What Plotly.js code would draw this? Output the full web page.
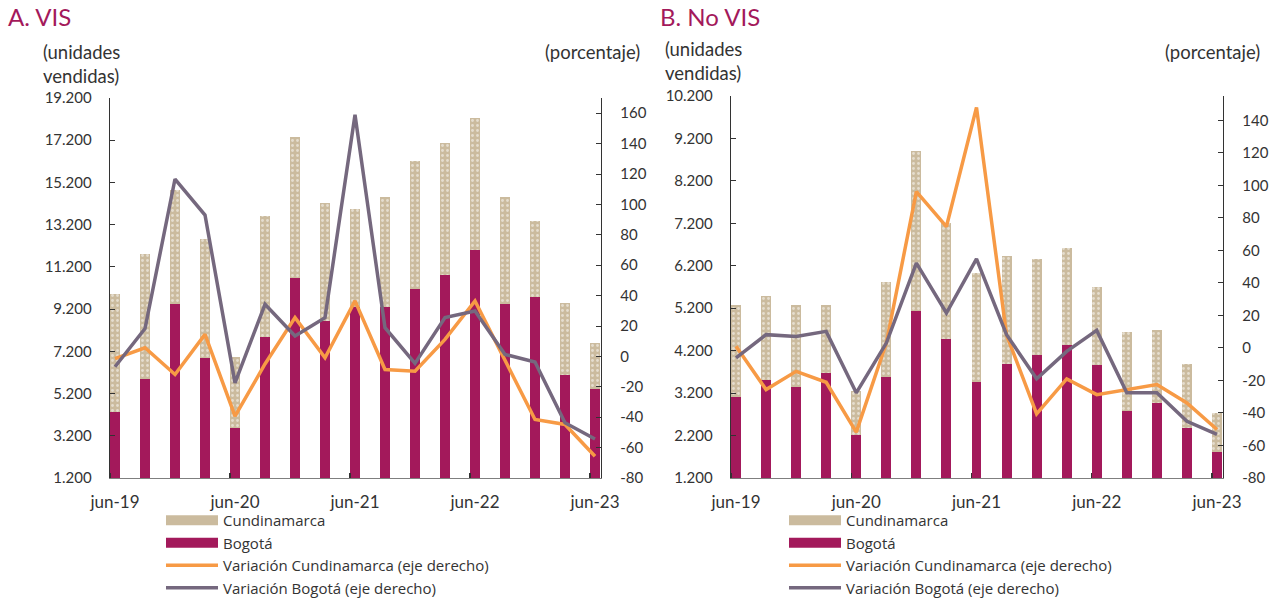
<!DOCTYPE html>
<html>
<head>
<meta charset="utf-8">
<script src="https://cdn.plot.ly/plotly-3.0.1.min.js"></script>
<style>
html,body{margin:0;padding:0;background:#fff;}
#chart{width:1278px;height:598px;}
</style>
</head>
<body>
<div id="chart"></div>
<script>
// Quarters
const quarters = ['jun-19','sep-19','dic-19','mar-20','jun-20','sep-20','dic-20','mar-21','jun-21','sep-21','dic-21','mar-22','jun-22','sep-22','dic-22','mar-23','jun-23'];
const yearTickLabels = ['jun-19','jun-20','jun-21','jun-22','jun-23'];

// Panel A: VIS (unidades vendidas)
const visBogota = [4340, 5880, 9440, 6900, 3550, 7860, 10660, 8650, 9300, 9320, 10170, 10830, 12000, 9440, 9790, 6100, 5430];
const visCundinamarca = [5580, 5930, 5400, 5620, 3400, 5770, 6710, 5560, 4630, 5210, 6060, 6260, 6240, 5090, 3580, 3370, 2180];
// variación anual (%)
const visVarCund = [-1.5, 5.7, -11.9, 14.5, -39.3, -5, 25.5, -0.9, 36.5, -8.6, -9.7, 11.2, 36.5, -3.1, -41.5, -44.8, -65.7];
const visVarBog = [-6.8, 18.3, 116.7, 93, -17.4, 34.3, 13.4, 25.5, 159, 18.9, -4.6, 25.5, 29.9, 1.3, -3.7, -43.7, -54.3];

// Panel B: No VIS
const noVisBogota = [3110, 3500, 3340, 3670, 2220, 3590, 5130, 4470, 3470, 3890, 4100, 4340, 3870, 2770, 2970, 2380, 1810];
const noVisCundinamarca = [2160, 1990, 1930, 1600, 1020, 2230, 3770, 2730, 2560, 2540, 2260, 2270, 1830, 1870, 1710, 1500, 920];
const noVisVarCund = [1.0, -25.6, -14.4, -21.1, -51.8, 3, 96.2, 74.7, 148, 8, -40.5, -19.0, -28.7, -25.6, -22.5, -33.8, -50.2];
const noVisVarBog = [-6.1, 8.2, 7.1, 10.2, -27.6, 3.0, 52.2, 21.5, 54.8, 8.2, -19.0, -2.1, 10.8, -27.6, -27.6, -45.1, -53.2];

const leftTicksA = [1200, 3200, 5200, 7200, 9200, 11200, 13200, 15200, 17200, 19200];
const leftTicksB = [1200, 2200, 3200, 4200, 5200, 6200, 7200, 8200, 9200, 10200];
const rightTicksA = [-80, -60, -40, -20, 0, 20, 40, 60, 80, 100, 120, 140, 160];
const rightTicksB = [-80, -60, -40, -20, 0, 20, 40, 60, 80, 100, 120, 140];

const C_MAG = '#A3195B', C_TAN = '#CBBB9E', C_ORA = '#F79A45', C_GRY = '#75687E';
const FONT = 'Lato, "Open Sans", sans-serif';
const TXT = '#333333';
const W = 1278, H = 598;

const xs = quarters.map((_, i) => i);
const yearIdx = yearTickLabels.map((_, k) => 4 * k);
const fmtThousands = v => String(v).replace(/\B(?=(\d{3})+(?!\d))/g, '.');

function panel(xa, yl, yr, leg, bog, cund, vC, vB) {
  return [
    {type:'bar', x: xs, y: bog, xaxis: xa, yaxis: yl, name:'Bogotá', showlegend:false,
     marker:{color: C_MAG, line:{width:0}}, width: 0.33, hovertext: quarters, textposition:'none'},
    {type:'bar', x: xs, y: cund, xaxis: xa, yaxis: yl, name:'Cundinamarca', showlegend:false,
     marker:{color: C_TAN, line:{width:0}, pattern:{shape:'.', fillmode:'overlay', fgcolor:'#ffffff', size:5, solidity:0.25}},
     width: 0.33, hovertext: quarters, textposition:'none'},
    // legend entries for the bars (wide swatches like the original)
    {type:'scatter', mode:'lines', x:[null], y:[null], xaxis: xa, yaxis: yl, name:'Cundinamarca', legend: leg, legendrank: 1,
     line:{color: C_TAN, width: 11}},
    {type:'scatter', mode:'lines', x:[null], y:[null], xaxis: xa, yaxis: yl, name:'Bogotá', legend: leg, legendrank: 2,
     line:{color: C_MAG, width: 11}},
    {type:'scatter', mode:'lines', x: xs, y: vC, xaxis: xa, yaxis: yr, name:'Variación Cundinamarca (eje derecho)', legend: leg, legendrank: 3,
     line:{color: C_ORA, width: 3.5}},
    {type:'scatter', mode:'lines', x: xs, y: vB, xaxis: xa, yaxis: yr, name:'Variación Bogotá (eje derecho)', legend: leg, legendrank: 4,
     line:{color: C_GRY, width: 3.5}}
  ];
}

const data = [
  ...panel('x', 'y', 'y2', 'legend', visBogota, visCundinamarca, visVarCund, visVarBog),
  ...panel('x2', 'y3', 'y4', 'legend2', noVisBogota, noVisCundinamarca, noVisVarCund, noVisVarBog)
];

const numFont = {family: FONT, size: 15, color: TXT};
const xFont = {family: FONT, size: 17, color: TXT};
function xAxis(dom) {
  return {domain: dom, range: [-0.167, 16.2], showgrid:false, zeroline:false,
    showline:true, linecolor:'#7f7f7f', linewidth:1.3,
    tickmode:'array', tickvals: yearIdx, ticktext: yearTickLabels, ticks:'', tickfont: xFont,
    ticklabelstandoff: 8,
    minor:{tickmode:'array', tickvals: yearIdx.map(v => v - 0.167), ticks:'inside', ticklen:5, tickcolor:'#333', tickwidth:1.3},
    fixedrange:true};
}
function yLeft(dom, anchor, range, ticks) {
  return {domain: dom, anchor: anchor, range: range, showgrid:false, zeroline:false,
    showline:true, linecolor:'#333', linewidth:1.3, ticks:'inside', ticklen:5, tickcolor:'#333',
    tickmode:'array', tickvals: ticks, ticktext: ticks.map(fmtThousands), tickfont: numFont,
    ticklabelstandoff: 14, fixedrange:true};
}
function yRight(over, anchor, range, ticks) {
  return {overlaying: over, anchor: anchor, side:'right', range: range, showgrid:false, zeroline:false,
    showline:true, linecolor:'#333', linewidth:1.3, ticks:'inside', ticklen:5, tickcolor:'#333',
    tickmode:'array', tickvals: ticks, ticktext: ticks.map(v => String(v)), tickfont: numFont,
    ticklabelstandoff: 15, fixedrange:true};
}

const domA = [110 / W, 601 / W], domB = [731 / W, 1223 / W];
const yDomA = [1 - 478 / H, 1 - 98 / H], yDomB = [1 - 478 / H, 1 - 96 / H];

function ann(text, px, py, opts) {
  return Object.assign({text: text, xref:'paper', yref:'paper', x: px / W, y: 1 - py / H,
    xanchor:'left', yanchor:'top', showarrow:false, align:'left',
    font:{family: FONT, size: 18.5, color: TXT}}, opts || {});
}

const legendBase = {orientation:'v', traceorder:'normal', bgcolor:'rgba(0,0,0,0)',
  font:{family: '"Open Sans", Lato, sans-serif', size: 15, color: TXT}, xanchor:'left', yanchor:'top', tracegroupgap:0, itemwidth:52};

const layout = {
  width: W, height: H, margin:{l:0, r:0, t:0, b:0, autoexpand:false},
  paper_bgcolor:'#fff', plot_bgcolor:'rgba(0,0,0,0)',
  barmode:'stack', showlegend:true,
  xaxis: xAxis(domA), xaxis2: xAxis(domB),
  yaxis: yLeft(yDomA, 'x', [1200, 19200], leftTicksA),
  yaxis2: yRight('y', 'x', [-80, 170], rightTicksA),
  yaxis3: yLeft(yDomB, 'x2', [1200, 10200], leftTicksB),
  yaxis4: yRight('y3', 'x2', [-80, 155], rightTicksB),
  legend: Object.assign({x: 161 / W, y: 1 - 504 / H}, legendBase),
  legend2: Object.assign({x: 784 / W, y: 1 - 504 / H}, legendBase),
  annotations: [
    ann('A. VIS', 6, 0, {font:{family: FONT, size: 24, color: C_MAG}}),
    ann('B. No VIS', 658, 0, {font:{family: FONT, size: 24, color: C_MAG}}),
    ann('(unidades<br>vendidas)', 41, 39),
    ann('(porcentaje)', 543, 39),
    ann('(unidades<br>vendidas)', 663, 36),
    ann('(porcentaje)', 1163, 39)
  ]
};

Plotly.newPlot('chart', data, layout, {displayModeBar:false, staticPlot:true});
</script>
</body>
</html>
